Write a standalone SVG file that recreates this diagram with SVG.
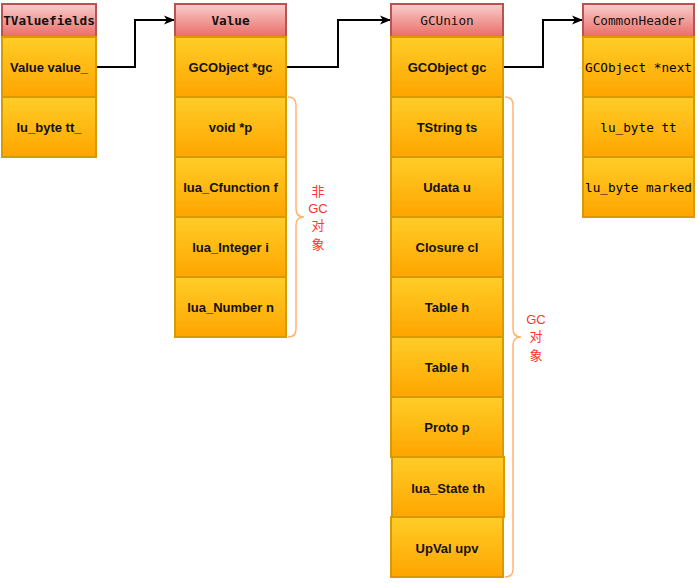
<svg xmlns="http://www.w3.org/2000/svg" width="697" height="583" viewBox="0 0 697 583">
<defs>
<linearGradient id="gh" x1="0" y1="0" x2="0" y2="1"><stop offset="0" stop-color="#f8cecc"/><stop offset="1" stop-color="#ea6b66"/></linearGradient>
<linearGradient id="gr" x1="0" y1="0" x2="0" y2="1"><stop offset="0" stop-color="#ffcd28"/><stop offset="1" stop-color="#ffa500"/></linearGradient>
<marker id="arr" markerWidth="11" markerHeight="10" refX="10" refY="5" orient="auto" markerUnits="userSpaceOnUse"><path d="M0,0.5 L11,5 L0,9.5 L2.8,5 Z" fill="#000"/></marker>
<style>
.h{fill:url(#gh);stroke:#b85450;stroke-width:2}
.r{fill:url(#gr);stroke:#d79b00;stroke-width:2}
.ht{font-family:"DejaVu Sans Mono","Liberation Mono",monospace;font-size:12.7px;fill:#111;text-anchor:middle;dominant-baseline:central}
.b{font-weight:bold}
.t{font-family:"Liberation Sans",Arial,sans-serif;font-size:13px;font-weight:bold;fill:#111;text-anchor:middle;dominant-baseline:central}
.m{font-family:"DejaVu Sans Mono","Liberation Mono",monospace;font-size:12.7px;fill:#000;text-anchor:middle;dominant-baseline:central}
.c{fill:none;stroke:#000;stroke-width:2}
.br{fill:none;stroke:#ffb570;stroke-width:1.5}
.lb{font-family:"Liberation Sans","Noto Sans CJK SC",sans-serif;font-size:13px;fill:#ff3333;text-anchor:middle}
.cj{font-family:"Noto Sans CJK SC",sans-serif;font-size:13px}
</style>
</defs>
<g id="connectors">
<path class="c" d="M96,67 H135 V20 H174" marker-end="url(#arr)"/>
<path class="c" d="M286,67 H338 V20 H390" marker-end="url(#arr)"/>
<path class="c" d="M503,67 H543 V20 H582" marker-end="url(#arr)"/>
</g>
<g id="TValuefields">
<rect class="h" x="2" y="4" width="94" height="33"/>
<text class="ht b" x="49" y="20.5">TValuefields</text>
<rect class="r" x="2" y="37" width="94" height="60"/>
<text class="t" x="49" y="67">Value value_</text>
<rect class="r" x="2" y="97" width="94" height="60"/>
<text class="t" x="49" y="127">lu_byte tt_</text>
</g>
<g id="Value">
<rect class="h" x="175" y="4" width="111" height="33"/>
<text class="ht b" x="230.5" y="20.5">Value</text>
<rect class="r" x="175" y="37" width="111" height="60"/>
<text class="t" x="230.5" y="67">GCObject *gc</text>
<rect class="r" x="175" y="97" width="111" height="60"/>
<text class="t" x="230.5" y="127">void *p</text>
<rect class="r" x="175" y="157" width="111" height="60"/>
<text class="t" x="230.5" y="187">lua_Cfunction f</text>
<rect class="r" x="175" y="217" width="111" height="60"/>
<text class="t" x="230.5" y="247">lua_Integer i</text>
<rect class="r" x="175" y="277" width="111" height="60"/>
<text class="t" x="230.5" y="307">lua_Number n</text>
</g>
<g id="GCUnion">
<rect class="h" x="391" y="4" width="112" height="33"/>
<text class="ht" x="447" y="20.5">GCUnion</text>
<rect class="r" x="391" y="37" width="112" height="60"/>
<text class="t" x="447" y="67">GCObject gc</text>
<rect class="r" x="391" y="97" width="112" height="60"/>
<text class="t" x="447" y="127">TString ts</text>
<rect class="r" x="391" y="157" width="112" height="60"/>
<text class="t" x="447" y="187">Udata u</text>
<rect class="r" x="391" y="217" width="112" height="60"/>
<text class="t" x="447" y="247">Closure cl</text>
<rect class="r" x="391" y="277" width="112" height="60"/>
<text class="t" x="447" y="307">Table h</text>
<rect class="r" x="391" y="337" width="112" height="60"/>
<text class="t" x="447" y="367">Table h</text>
<rect class="r" x="391" y="397" width="112" height="60"/>
<text class="t" x="447" y="427">Proto p</text>
<rect class="r" x="392" y="457" width="112" height="60"/>
<text class="t" x="448" y="488">lua_State th</text>
<rect class="r" x="391" y="517" width="112" height="60"/>
<text class="t" x="447" y="548">UpVal upv</text>
</g>
<g id="CommonHeader">
<rect class="h" x="583" y="4" width="111" height="33"/>
<text class="ht" x="638.5" y="20.5">CommonHeader</text>
<rect class="r" x="583" y="37" width="111" height="60"/>
<text class="m" x="638.5" y="67">GCObject *next</text>
<rect class="r" x="583" y="97" width="111" height="60"/>
<text class="m" x="638.5" y="127">lu_byte tt</text>
<rect class="r" x="583" y="157" width="111" height="60"/>
<text class="m" x="638.5" y="187">lu_byte marked</text>
</g>
<g id="brace-nongc">
<path class="br" d="M288,97 Q296,97 296,105 V209 Q296,217 304,217 Q296,217 296,225 V329 Q296,337 288,337"/>
<text class="lb"><tspan class="cj" x="318" y="196">非</tspan><tspan x="318" y="213">GC</tspan><tspan class="cj" x="318" y="230">对</tspan><tspan class="cj" x="318" y="248.5">象</tspan></text>
</g>
<g id="brace-gc">
<path class="br" d="M505,97 Q513,97 513,105 V329 Q513,337 521,337 Q513,337 513,345 V569 Q513,577 505,577"/>
<text class="lb"><tspan x="536" y="324">GC</tspan><tspan class="cj" x="536" y="341">对</tspan><tspan class="cj" x="536" y="359.5">象</tspan></text>
</g>
</svg>
